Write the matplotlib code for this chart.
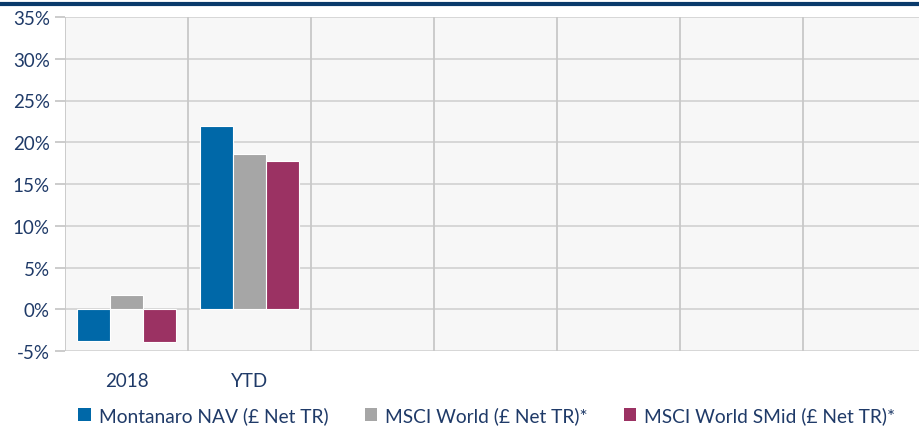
import matplotlib
matplotlib.use("Agg")
import matplotlib.pyplot as plt
from matplotlib.lines import Line2D
from matplotlib.patches import Patch
import numpy as np

categories = ["2018", "YTD", "", "", "", "", ""]
series_names = ["Montanaro NAV (£ Net TR)", "MSCI World (£ Net TR)*", "MSCI World SMid (£ Net TR)*"]
montanaro = [-3.8, 22.0]
msci_world = [1.7, 18.6]
msci_smid = [-3.9, 17.7]
yticks = [-5, 0, 5, 10, 15, 20, 25, 30, 35]

colors = ["#0068A8", "#A6A6A6", "#9B3263"]
navy = "#1F3A68"

plt.rcParams['font.family'] = ['Lato', 'DejaVu Sans']

fig = plt.figure(figsize=(9.2, 4.27), dpi=100)
ax = fig.add_axes([65/920, 75/427, 1 - 65/920, (352-18)/427])
ax.set_facecolor("#F7F7F7")

w = 0.27
x = np.arange(len(montanaro))
for i, vals in enumerate([montanaro, msci_world, msci_smid]):
    ax.bar(x + (i - 1) * w, vals, width=w, color=colors[i], edgecolor="white",
           linewidth=0.8, zorder=3, label=series_names[i])

ax.set_xlim(-0.5, -0.5 + 855/123)
ax.set_ylim(-5, 35)
ax.set_yticks(yticks)
ax.set_yticklabels([f"{v}%" for v in yticks], color=navy, fontsize=13.5)
ax.set_xticks(np.arange(len(categories)))
ax.set_xticklabels(categories, color=navy, fontsize=13.5)
ax.tick_params(axis='x', length=0, pad=15)
ax.tick_params(axis='y', length=7, width=1.3, color="#C8C8C8", pad=4)

for v in yticks:
    ax.axhline(v, color="#D4D4D4", linewidth=1.3, zorder=1)
for b in np.arange(-0.5, len(categories)):
    ax.axvline(b, color="#C8C8C8", linewidth=1.3, zorder=1)

for s in ax.spines.values():
    s.set_visible(False)

fig.add_artist(Line2D([0, 1], [1 - 5/427, 1 - 5/427], transform=fig.transFigure,
                      color="#0A3A6B", linewidth=3))

handles = [Patch(facecolor=c, edgecolor='none') for c in colors]
leg = fig.legend(handles, series_names, loc="center", bbox_to_anchor=(0.529, 1 - 416/427),
                 ncol=3, frameon=False, fontsize=13.8, handlelength=0.65, handleheight=0.65,
                 handletextpad=0.4, columnspacing=1.9)
for t in leg.get_texts():
    t.set_color(navy)

fig.savefig("out.png", dpi=100)
